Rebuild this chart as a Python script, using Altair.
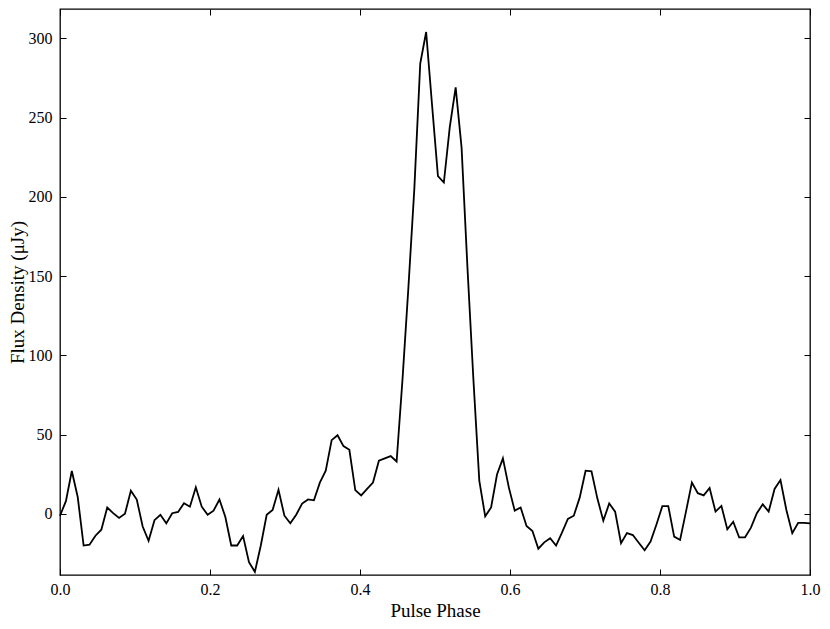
import altair as alt
import pandas as pd

# Flux density per phase bin (128 bins across one pulse period)
flux = [
    -1.2, 8, 27, 10.6, -20, -19.5, -13.8, -10, 4, 0.4, -2.6, 0, 14.6, 9, -8, -17,
    -4, -0.6, -6, 0.4, 1.2, 6.7, 4.5, 16.7, 4.5, -0.6, 2, 9, -2, -20, -20, -14,
    -30.5, -36.6, -20, -0.6, 2.4, 15.2, -1.2, -6, -0.6, 6.5, 9.1, 8.5, 19.7, 27.2,
    46.5, 49.6, 42.7, 40.4, 15, 11.6, 15.7, 19.7, 33.5, 35, 36.4, 33,
    85, 143, 205, 284, 304, 258, 213, 209, 244, 269, 231, 155, 85, 21,
    -1.6, 4, 24.8, 35, 16.7, 2, 4, -7.7, -10.8, -22, -18, -15.4, -20, -11.8, -3.2,
    -1.2, 10.2, 27.2, 26.8, 9.6, -4.3, 6.5, 1.4, -18.5, -12.2, -13.4, -18.3, -23,
    -17.5, -6.7, 4.9, 4.9, -14.4, -16.5, 1.4, 19.7, 13, 11.6, 16.3, 1.4, 5, -9.8,
    -5, -14.8, -14.8, -8.7, 0.4, 6, 1.4, 15.7, 21.3, 2.4, -12.2, -5.7, -5.7, -6,
]
phase = [i / (len(flux) - 1) for i in range(len(flux))]

x_ticks = [0.0, 0.2, 0.4, 0.6, 0.8, 1.0]
y_ticks = [0, 50, 100, 150, 200, 250, 300]
x_domain = [0.0, 1.0]
y_domain = [-38.6, 318.5]

df = pd.DataFrame({"phase": phase, "flux": flux})

FONT = "Liberation Serif"
xs = alt.Scale(domain=x_domain, nice=False, zero=False)
ys = alt.Scale(domain=y_domain, nice=False, zero=False)

base = alt.Chart(df)

line = base.mark_line(color="black", strokeWidth=1.8).encode(
    x=alt.X("phase:Q", scale=xs,
            axis=alt.Axis(values=x_ticks, format=".1f", title="Pulse Phase",
                          ticks=False, domain=False, grid=False, labelFlush=False,
                          labelPadding=6, titlePadding=4)),
    y=alt.Y("flux:Q", scale=ys,
            axis=alt.Axis(values=y_ticks, format="d", title="Flux Density (μJy)",
                          ticks=False, domain=False, grid=False, labelFlush=False,
                          labelPadding=8, titlePadding=1)),
)

ticks_bl = base.mark_line(opacity=0).encode(
    x=alt.X("phase:Q", scale=xs,
            axis=alt.Axis(orient="bottom", values=x_ticks, labels=False, title="",
                          domain=False, grid=False, ticks=True, tickSize=6, offset=-6)),
    y=alt.Y("flux:Q", scale=ys,
            axis=alt.Axis(orient="left", values=y_ticks, labels=False, title="",
                          domain=False, grid=False, ticks=True, tickSize=6, offset=-6)),
)

ticks_tr = base.mark_line(opacity=0).encode(
    x=alt.X("phase:Q", scale=xs,
            axis=alt.Axis(orient="top", values=x_ticks, labels=False, title="",
                          domain=False, grid=False, ticks=True, tickSize=6, offset=-6)),
    y=alt.Y("flux:Q", scale=ys,
            axis=alt.Axis(orient="right", values=y_ticks, labels=False, title="",
                          domain=False, grid=False, ticks=True, tickSize=6, offset=-6)),
)

chart = (
    alt.layer(line, ticks_bl, ticks_tr)
    .resolve_axis(x="independent", y="independent")
    .properties(
        width=750,
        height=566,
        autosize=alt.AutoSizeParams(type="none"),
        padding={"left": 52, "top": 1, "right": 11, "bottom": 45},
        background="white",
    )
    .configure_view(stroke="black", strokeWidth=1.3)
    .configure_axis(
        labelFont=FONT, titleFont=FONT, labelFontSize=16, titleFontSize=19,
        labelColor="black", titleColor="black", tickColor="black", tickWidth=1,
        titleFontWeight="normal",
    )
)

chart.save("out.html", embed_options={"renderer": "svg", "actions": False})
